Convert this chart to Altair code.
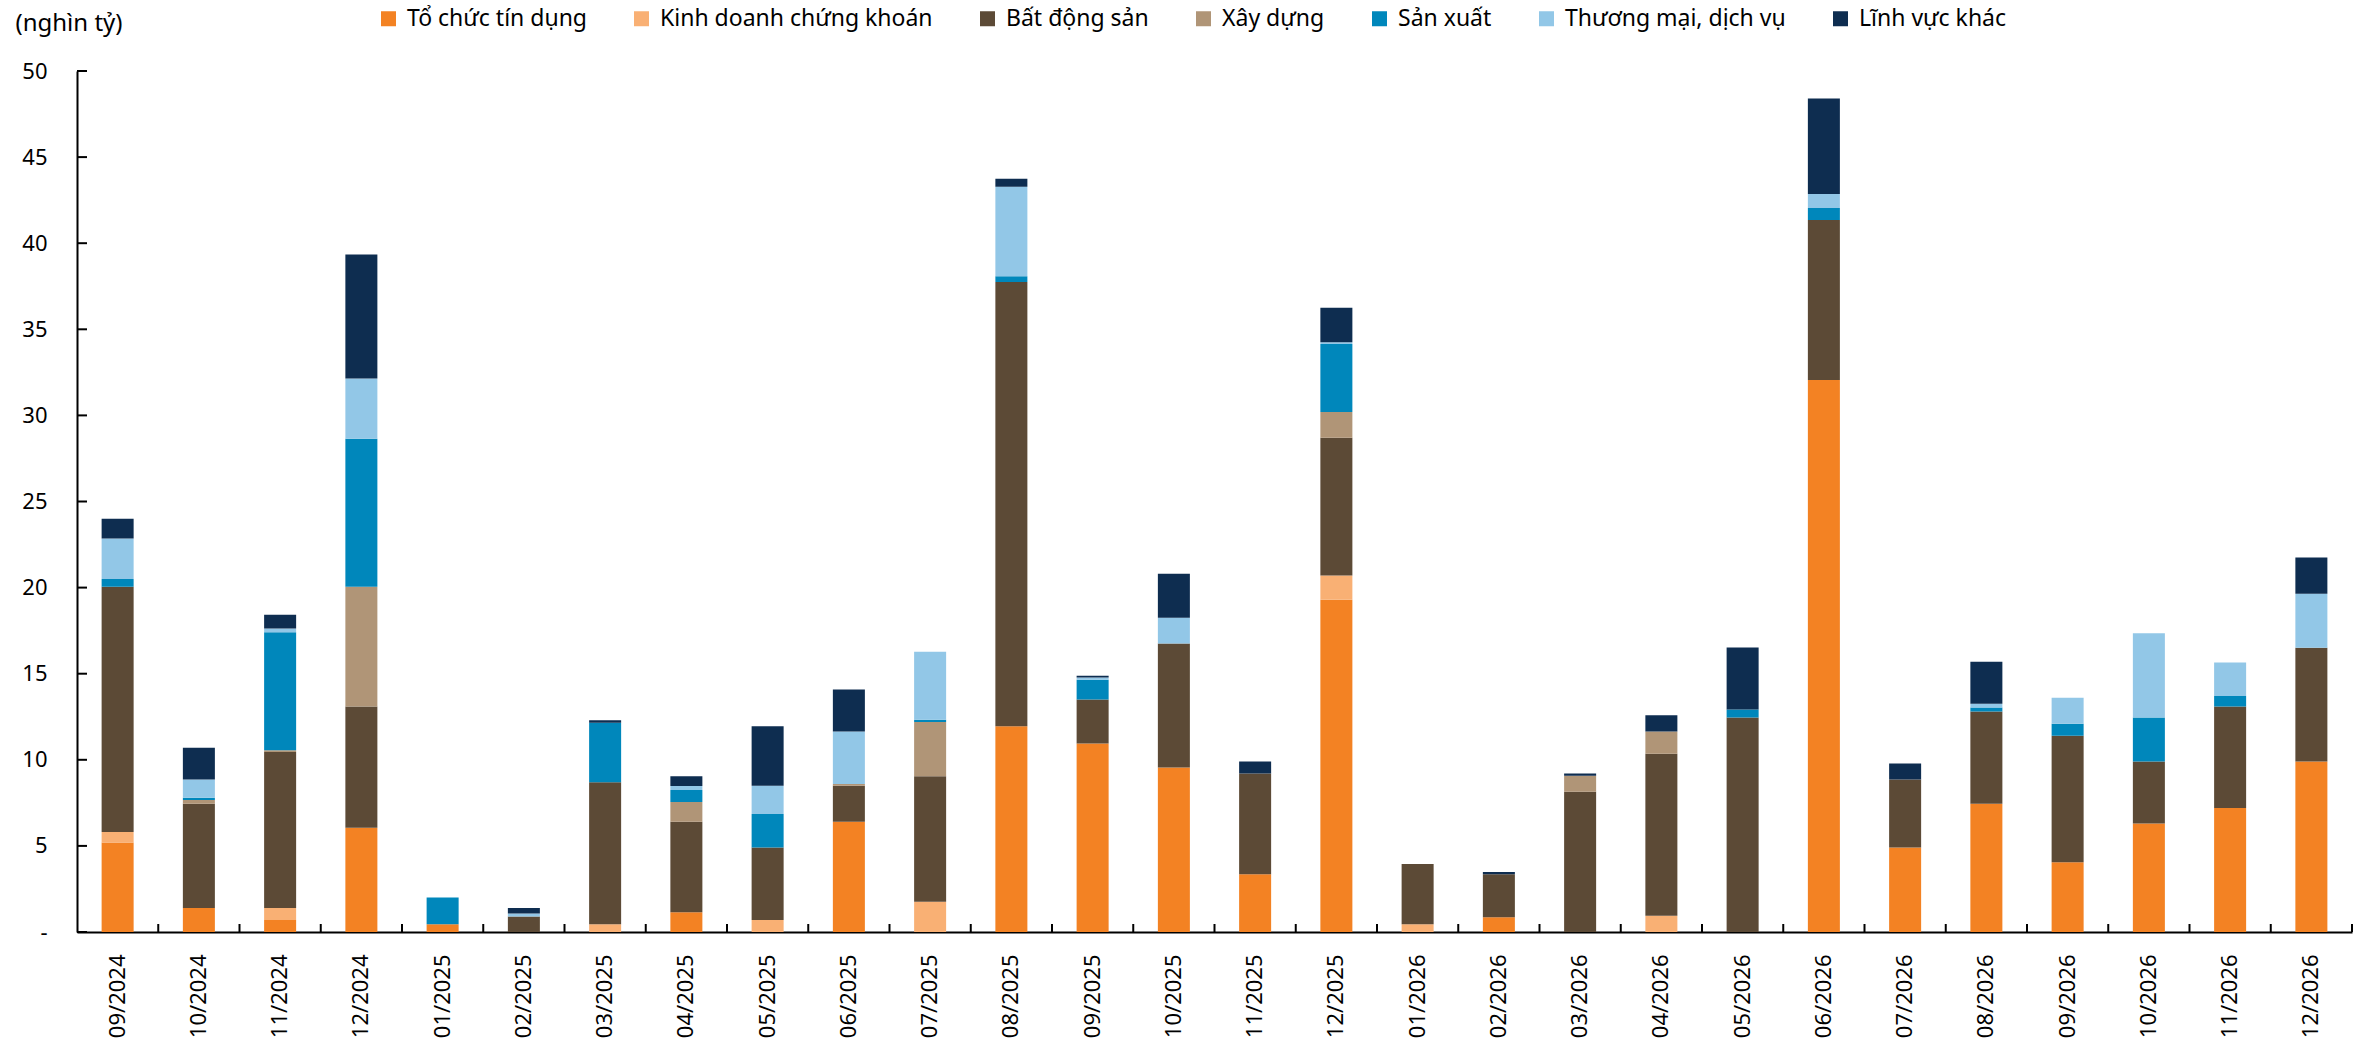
import altair as alt
import pandas as pd

# Tháng (trục hoành)
months = [
    "09/2024", "10/2024", "11/2024", "12/2024",
    "01/2025", "02/2025", "03/2025", "04/2025", "05/2025", "06/2025",
    "07/2025", "08/2025", "09/2025", "10/2025", "11/2025", "12/2025",
    "01/2026", "02/2026", "03/2026", "04/2026", "05/2026", "06/2026",
    "07/2026", "08/2026", "09/2026", "10/2026", "11/2026", "12/2026",
]

sectors = [
    "Tổ chức tín dụng",
    "Kinh doanh chứng khoán",
    "Bất động sản",
    "Xây dựng",
    "Sản xuất",
    "Thương mại, dịch vụ",
    "Lĩnh vực khác",
]
colors = ["#F38223", "#F9B074", "#5C4A36", "#B09577", "#0087BB", "#92C7E7", "#0E2D50"]

# Giá trị theo lĩnh vực (nghìn tỷ đồng)
to_chuc_tin_dung = [5.2, 1.4, 0.7, 6.05, 0.45, 0, 0, 1.15, 0, 6.4, 0, 11.95, 10.95, 9.55,
                    3.35, 19.3, 0, 0.85, 0, 0, 0, 32.05, 4.9, 7.45, 4.05, 6.3, 7.2, 9.9]
kinh_doanh_ck = [0.6, 0, 0.7, 0, 0, 0, 0.45, 0, 0.7, 0, 1.75, 0, 0, 0,
                 0, 1.4, 0.45, 0, 0, 0.95, 0, 0, 0, 0, 0, 0, 0, 0]
bat_dong_san = [14.25, 6.05, 9.05, 7.05, 0, 0.9, 8.25, 5.25, 4.2, 2.1, 7.3, 25.8, 2.55, 7.2,
                5.85, 8.0, 3.5, 2.5, 8.15, 9.4, 12.45, 9.3, 3.95, 5.35, 7.35, 3.6, 5.9, 6.6]
xay_dung = [0, 0.22, 0.1, 6.95, 0, 0, 0, 1.15, 0, 0.1, 3.15, 0, 0, 0,
            0, 1.5, 0, 0, 0.92, 1.3, 0, 0, 0, 0, 0, 0, 0, 0]
san_xuat = [0.45, 0.13, 6.85, 8.6, 1.55, 0, 3.45, 0.7, 1.95, 0, 0.13, 0.33, 1.15, 0,
            0, 3.95, 0, 0, 0, 0, 0.47, 0.7, 0, 0.23, 0.7, 2.55, 0.6, 0]
thuong_mai_dv = [2.35, 1.05, 0.23, 3.5, 0, 0.17, 0, 0.23, 1.65, 3.05, 3.95, 5.2, 0.13, 1.5,
                 0, 0.1, 0, 0, 0, 0, 0, 0.8, 0, 0.23, 1.5, 4.9, 1.95, 3.15]
linh_vuc_khac = [1.15, 1.85, 0.8, 7.2, 0, 0.33, 0.14, 0.57, 3.45, 2.43, 0, 0.47, 0.1, 2.55,
                 0.7, 2.0, 0, 0.14, 0.13, 0.93, 3.6, 5.55, 0.93, 2.43, 0, 0, 0, 2.1]

y_ticks = list(range(0, 51, 5))

series = [to_chuc_tin_dung, kinh_doanh_ck, bat_dong_san, xay_dung,
          san_xuat, thuong_mai_dv, linh_vuc_khac]
rows = []
for idx, (name, vals) in enumerate(zip(sectors, series)):
    for m, v in zip(months, vals):
        if v > 0:
            rows.append({"thang": m, "linh_vuc": name, "gia_tri": v, "thu_tu": idx})
df = pd.DataFrame(rows)

FONT = "Noto Sans"
PLOT_W, PLOT_H = 2275, 861
STEP = PLOT_W / len(months)
x_scale = alt.Scale(paddingInner=0.606, paddingOuter=0.303)
y_scale = alt.Scale(domain=[0, 50], nice=False)

bars = alt.Chart(df).mark_bar().encode(
    x=alt.X("thang:N", sort=months, scale=x_scale, title=None,
            axis=alt.Axis(orient="bottom", labelAngle=-90, labelFont=FONT, labelFontSize=22,
                          labelColor="black", labelPadding=22, ticks=False, tickSize=0,
                          domainColor="black", domainWidth=2, grid=False)),
    y=alt.Y("gia_tri:Q", stack="zero", scale=y_scale,
            axis=alt.Axis(orient="left", values=y_ticks,
                          labelExpr="datum.value == 0 ? '-\u00a0\u00a0\u00a0' : datum.label",
                          labelFont=FONT, labelFontSize=22, labelColor="black",
                          labelPadding=30, ticks=False, tickSize=0,
                          domainColor="black", domainWidth=2, grid=False,
                          title="(nghìn tỷ)", titleAngle=0, titleAlign="left",
                          titleBaseline="top", titleX=-62, titleY=-60,
                          titleFont=FONT, titleFontSize=24, titleFontWeight="normal",
                          titleColor="black")),
    color=alt.Color("linh_vuc:N", scale=alt.Scale(domain=sectors, range=colors),
                    legend=alt.Legend(orient="none", legendX=300, legendY=-64,
                                      direction="horizontal", title=None,
                                      symbolType="square", symbolSize=225,
                                      symbolStrokeWidth=0, labelFont=FONT,
                                      labelFontSize=23, labelColor="black",
                                      labelLimit=0, labelOffset=7,
                                      columnPadding=43, padding=0)),
    order=alt.Order("thu_tu:Q", sort="ascending"),
)

# Inward-pointing tick marks: y ticks to the right of the axis line,
# x ticks rising from the axis line at the boundaries between months
y_tick_marks = alt.Chart(pd.DataFrame({"v": y_ticks})).mark_rule(
    color="black", strokeWidth=2
).encode(
    y=alt.Y("v:Q", scale=y_scale, axis=None),
    x=alt.value(0),
    x2=alt.value(10),
)

x_tick_marks = alt.Chart(pd.DataFrame({"thang": months})).mark_rule(
    color="black", strokeWidth=2, xOffset=STEP / 2
).encode(
    x=alt.X("thang:N", sort=months, scale=x_scale, axis=None),
    y=alt.value(PLOT_H - 8),
    y2=alt.value(PLOT_H),
)

chart = (
    alt.layer(bars, y_tick_marks, x_tick_marks)
    .resolve_axis(x="independent", y="independent")
    .properties(width=PLOT_W, height=PLOT_H,
                autosize=alt.AutoSizeParams(type="none"),
                padding={"left": 77, "top": 71, "right": 12, "bottom": 112},
                background="white")
    .configure_view(stroke=None)
)

chart.save("out.html", embed_options={"renderer": "svg", "actions": False})
